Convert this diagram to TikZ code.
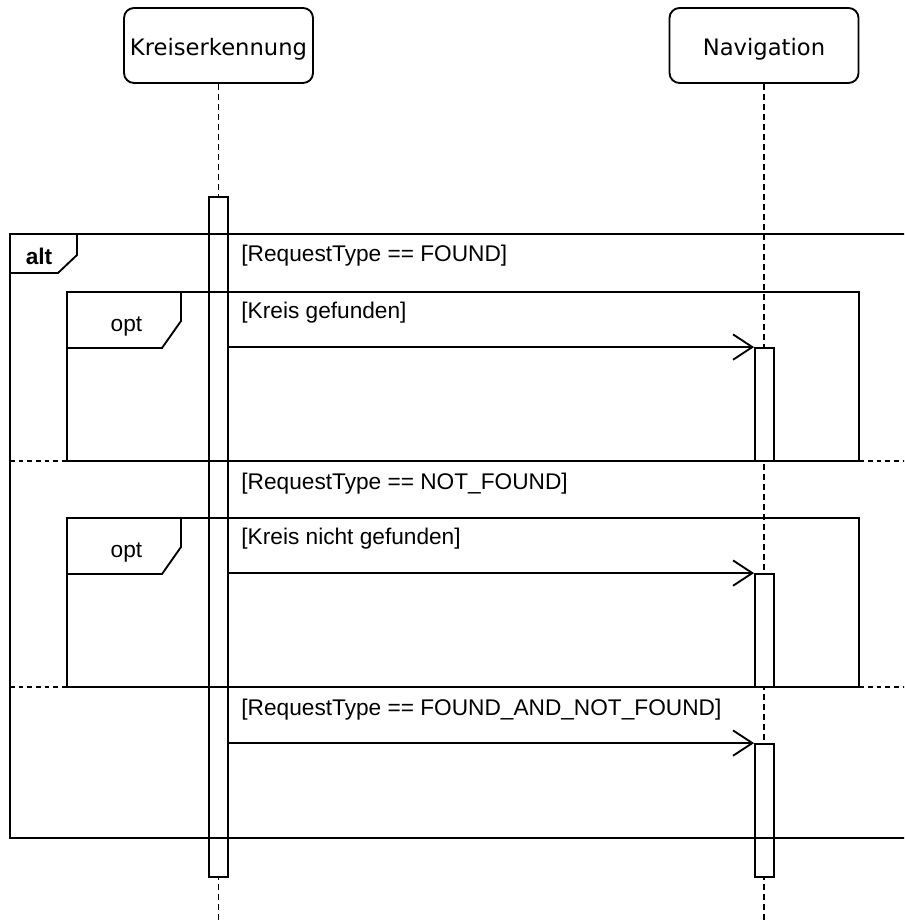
\documentclass[tikz,border=0pt]{standalone}
\usepackage{fontspec}
\setmainfont{Liberation Sans}
\newfontfamily\headfont{DejaVu Sans}
\usetikzlibrary{arrows.meta}
\begin{document}
\begin{tikzpicture}[x=0.75pt,y=-0.75pt,line width=1.4pt,
  head/.style={draw, rounded corners=7.5pt, minimum width=141.75pt, minimum height=56.25pt,
    inner sep=0pt, text height=16pt, text depth=0.25pt, font=\headfont\fontsize{17}{20}\selectfont},
  act/.style={draw, fill=white, minimum width=14.25pt, inner sep=0pt},
  life/.style={dash pattern=on 4.5pt off 3pt},
  sepline/.style={dash pattern=on 3.5pt off 3pt},
  guard/.style={anchor=base west, inner sep=0pt, font=\fontsize{17}{20}\selectfont},
  frametag/.style={anchor=base, inner sep=0pt, font=\fontsize{17}{20}\selectfont},
  msg/.style={-{Straight Barb[length=14.5pt,width=19pt]}},
]
\useasboundingbox (0,0) rectangle (904,923);
\clip (0,0) rectangle (904,923);
% lifeline heads
\node[head] (k) at (218.5,45.5) {Kreiserkennung};
\node[head] (n) at (764,45.5) {Navigation};
\coordinate (kend) at (218.5,930);
\coordinate (nend) at (764,930);
\draw[life] (k.south) -- (kend);
\draw[life] (n.south) -- (nend);
% activations
\node[act, minimum height=510pt] (a1) at (218.5,537) {};
\node[act, minimum height=84.75pt] (a2) at (764.5,404.5) {};
\node[act, minimum height=84.75pt] (a3) at (764.5,630.5) {};
\node[act, minimum height=99.75pt] (a4) at (764.5,810.5) {};
% alt frame
\draw[sepline] (10,461) -- (910,461);
\draw[sepline] (10,687) -- (910,687);
\draw (10,234) rectangle (920,838);
\draw (10,273) -- (58,273) -- (77,255) -- (77,234);
\node[frametag, font=\bfseries\fontsize{17}{20}\selectfont] (altlab) at (39,265) {alt};
% opt frames
\draw (67,292) rectangle (859,461);
\draw (67,348) -- (162,348) -- (181,321) -- (181,292);
\node[frametag] (opt1) at (126.5,331) {opt};
\draw (67,518) rectangle (859,687);
\draw (67,574) -- (162,574) -- (181,547) -- (181,518);
\node[frametag] (opt2) at (126.5,557) {opt};
% guards
\node[guard] (g1) at (240.5,262) {[RequestType == FOUND]};
\node[guard] (g2) at (240.5,318) {[Kreis gefunden]};
\node[guard] (g3) at (240.5,489) {[RequestType == NOT\_FOUND]};
\node[guard] (g4) at (240.5,544) {[Kreis nicht gefunden]};
\node[guard] (g5) at (240.5,715) {[RequestType == FOUND\_AND\_NOT\_FOUND]};
% messages
\draw[msg] (a1.east |- a2.north) -- (a2.north west);
\draw[msg] (a1.east |- a3.north) -- (a3.north west);
\draw[msg] (a1.east |- a4.north) -- (a4.north west);
\end{tikzpicture}
\end{document}
